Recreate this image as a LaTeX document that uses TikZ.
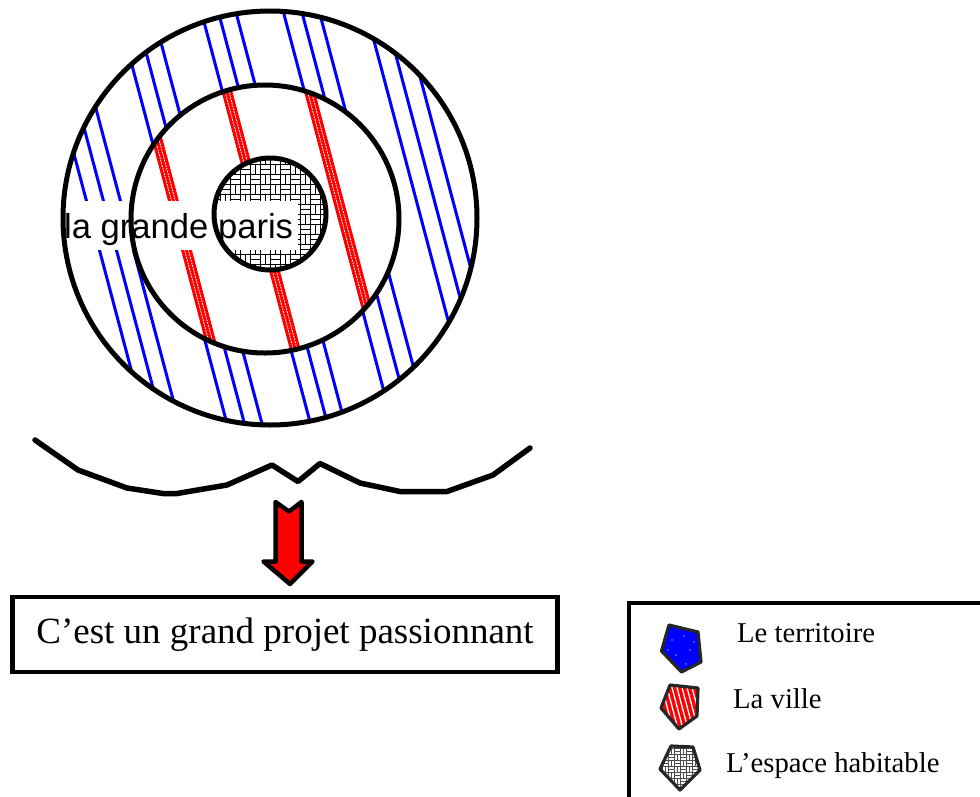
\documentclass[tikz,border=0pt]{standalone}
\usepackage{fontspec}
\setmainfont{Liberation Serif}
\newfontfamily\arialf{Liberation Sans}
\begin{document}
\begin{tikzpicture}[x=1pt,y=-1pt,
  ring/.style={draw=black, line width=5pt},
  blueln/.style={draw=blue, line width=3pt},
  redband/.style={draw=red, line width=10.5pt},
  redgap/.style={draw=white, line width=0.8pt, dash pattern=on 1.8pt off 1pt},
  brick/.style={draw=black, line width=0.7pt},
  outl/.style={draw=black, line width=4.5pt, line join=round, line cap=round},
  icon/.style={draw=black!85, line width=3.2pt, line join=round},
  legtxt/.style={font=\fontsize{28.7}{34}\selectfont, anchor=base west, inner sep=0pt}]
\useasboundingbox (0,0) rectangle (980,796);
\clip (0,0) rectangle (980,796);

% blue lines in outer ring
\begin{scope}
  \clip (270,218) circle[radius=207pt];
  \foreach \c in {91,108,125,172.5,190,207.5,256,273,290.5,338,356.5,374,421,439,457.5}
    \draw[blueln] (\c-57.8,0) -- (\c+58.8,440);
\end{scope}
% middle disk with red bands
\fill[white] (265,219) circle[radius=134pt];
\begin{scope}
  \clip (265,219) circle[radius=134pt];
  \foreach \c in {178,260.5,343}{
    \draw[redband] (\c-57.8,0) -- (\c+58.8,440);
    \draw[redgap] (\c-1.9-57.8,0) -- (\c-1.9+58.8,440);
    \draw[redgap] (\c+1.9-57.8,0) -- (\c+1.9+58.8,440);
  }
\end{scope}
% inner disk with weave hatch
\fill[white] (270,214) circle[radius=56pt];
\begin{scope}
  \clip (270,214) circle[radius=56pt];
  \foreach \i in {0,...,12}{
    \foreach \j in {0,...,12}{
      \pgfmathtruncatemacro{\pty}{mod(\i+\j,2)}
      \pgfmathsetmacro{\xa}{210+10*\i}
      \pgfmathsetmacro{\ya}{154+10*\j}
      \ifnum\pty=0
        \draw[brick] (\xa,\ya) rectangle ++(10,5) (\xa,\ya+5) rectangle ++(10,5);
      \else
        \draw[brick] (\xa,\ya) rectangle ++(5,10) (\xa+5,\ya) rectangle ++(5,10);
      \fi
    }
  }
\end{scope}
% white band behind the label
\fill[white] (62,201) rectangle (298,250);
% ring outlines
\draw[ring] (270,218) circle[radius=207pt];
\draw[ring] (265,219) circle[radius=134pt];
\draw[ring] (270,214) circle[radius=56pt];
\node[font=\arialf\fontsize{34.6}{40}\selectfont, anchor=base west, inner sep=0pt] (gp) at (64,238) {la grande paris};

% brace
\draw[outl, line width=5.5pt] (35,440) -- (78,470) -- (127,488) -- (163,493.5) -- (177,493.5)
  -- (227,485) -- (272,465) -- (298,481.5) -- (320,463.5) -- (360,483) -- (400,491.5)
  -- (447,491.5) -- (493,475) -- (530,448);

% red arrow
\draw[outl, fill=red, line width=4.5pt] (275.5,502) -- (289,511.5) -- (301.5,502) -- (301.5,561.5)
  -- (312.5,561.5) -- (290,584) -- (263.5,561.5) -- (275.5,561.5) -- cycle;

% main box
\node[draw, line width=4.5pt, minimum width=545pt, minimum height=75pt, inner sep=0pt,
  font=\fontsize{37}{44}\selectfont] (mainbox) at (285,634.5) {C’est un grand projet passionnant};

% legend box
\draw[line width=4.5pt] (629,603) rectangle (1010,840);

% legend icons
\draw[icon, fill=blue] (669,625) -- (698,632) -- (701,662) -- (681.5,672) -- (661.5,651) -- cycle;
\foreach \p in {(672,640),(684,636),(690,650),(676,655),(686,664),(668,650),(694,642)}
  \fill[blue!45!white] \p circle[radius=0.9pt];

\begin{scope}
  \clip (670,685) -- (698,688) -- (697,716) -- (679,729) -- (661,708) -- cycle;
  \fill[red] (655,680) rectangle (705,735);
  \foreach \k in {0,...,12}
    \draw[white, line width=1.3pt] (640+5*\k,680) -- (640+5*\k+14.6,735);
\end{scope}
\draw[icon] (670,685) -- (698,688) -- (697,716) -- (679,729) -- (661,708) -- cycle;

\begin{scope}
  \clip (671,746) -- (693,747) -- (700,770) -- (680,790) -- (660,769) -- cycle;
  \fill[white] (655,740) rectangle (705,795);
  \foreach \i in {0,...,7}{
    \foreach \j in {0,...,8}{
      \pgfmathtruncatemacro{\pty}{mod(\i+\j,2)}
      \pgfmathsetmacro{\xa}{656+6*\i}
      \pgfmathsetmacro{\ya}{742+6*\j}
      \ifnum\pty=0
        \draw[brick, line width=0.9pt, draw=black!70] (\xa,\ya) rectangle ++(6,3) (\xa,\ya+3) rectangle ++(6,3);
      \else
        \draw[brick, line width=0.9pt, draw=black!70] (\xa,\ya) rectangle ++(3,6) (\xa+3,\ya) rectangle ++(3,6);
      \fi
    }
  }
\end{scope}
\draw[icon] (671,746) -- (693,747) -- (700,770) -- (680,790) -- (660,769) -- cycle;

% legend texts
\node[legtxt] (lt) at (737,642) {Le territoire};
\node[legtxt] (lv) at (733,708) {La ville};
\node[legtxt] (lh) at (726,772.5) {L’espace habitable};
\end{tikzpicture}
\end{document}
